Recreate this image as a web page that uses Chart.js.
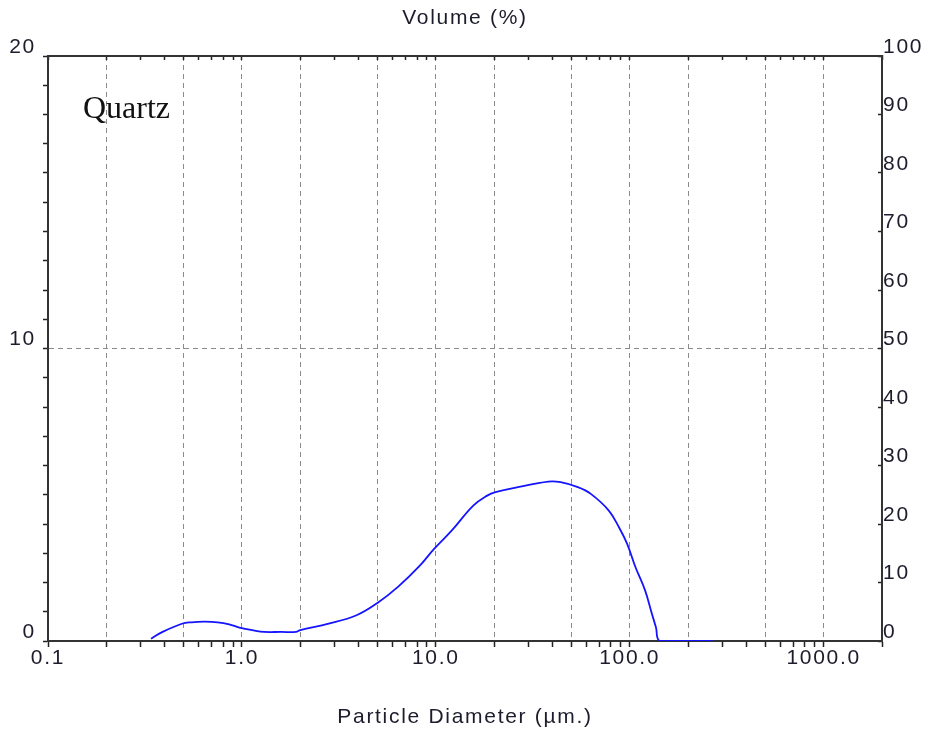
<!DOCTYPE html>
<html>
<head>
<meta charset="utf-8">
<script src="https://cdn.jsdelivr.net/npm/chart.js@4"></script>
<style>
  body { margin: 0; background: #fff; }
</style>
</head>
<body>
<canvas id="psdChart" width="926" height="735"></canvas>
<script>
// DATA - particle size distribution
const diameterUm = [0.34, 0.39, 0.49, 0.55, 0.64, 0.75, 0.86, 0.97, 1.15, 1.3, 1.6, 1.9, 2.0, 2.8, 3.9, 5.0, 6.4, 8.2, 9.8, 12.1, 15.6, 18.4, 20.3, 26.5, 38, 44, 54, 63, 78, 88, 97, 107, 120, 130, 136.5, 143, 200, 268];
const volumePct  = [0.08, 0.31, 0.59, 0.64, 0.66, 0.64, 0.57, 0.46, 0.36, 0.31, 0.31, 0.31, 0.37, 0.59, 0.88, 1.30, 1.86, 2.55, 3.15, 3.78, 4.63, 4.97, 5.09, 5.26, 5.45, 5.43, 5.26, 5.03, 4.46, 3.89, 3.32, 2.53, 1.73, 0.94, 0.47, 0, 0, 0];

const xLabelValues = [0.1, 1, 10, 100, 1000];
const xLabelText   = ['0.1', '1.0', '10.0', '100.0', '1000.0'];
const leftLabels   = [0, 10, 20];
const rightLabels  = [0, 10, 20, 30, 40, 50, 60, 70, 80, 90, 100];

const X_MIN = 0.1, X_MAX = 2000;
const FONT = '"Liberation Sans", Arial, sans-serif';
const INK = '#1c1c2c';
const GRID = '#8a8a8a';
const FRAME = '#333';

function mantissa(v) {
    const e = Math.floor(Math.log10(v) + 1e-9);
    return Math.round(v / Math.pow(10, e));
}

// every 1..9 x 10^n between the axis ends
function logTicks(scale) {
    const out = [];
    for (let e = -1; e <= 3; e++) {
        for (let m = 1; m <= 9; m++) {
            const v = m * Math.pow(10, e);
            if (v <= X_MAX * 1.0001) out.push({ value: v });
        }
    }
    scale.ticks = out;
}

function xGridColor(ctx) {
    const v = ctx.tick && ctx.tick.value;
    if (!v || v <= X_MIN * 1.001 || v >= X_MAX * 0.999) return 'transparent';
    return [1, 2, 5].includes(mantissa(v)) ? GRID : 'transparent';
}

// canvas letter spacing, reset whenever the canvas is resized
const spacing = {
    id: 'spacing',
    beforeUpdate(chart) { chart.ctx.letterSpacing = '1.7px'; },
    beforeDraw(chart) { chart.ctx.letterSpacing = '1.7px'; }
};

// sample name in the corner of the plot
const sampleName = {
    id: 'sampleName',
    afterDraw(chart) {
        const ctx = chart.ctx;
        ctx.save();
        ctx.letterSpacing = '0px';
        ctx.font = '32px "Liberation Serif", "Times New Roman", serif';
        ctx.fillStyle = '#111';
        ctx.textBaseline = 'alphabetic';
        ctx.fillText('Quartz', 83, 118);
        ctx.restore();
    }
};

Chart.defaults.font.family = FONT;
Chart.defaults.font.size = 21;
Chart.defaults.color = INK;

new Chart(document.getElementById('psdChart'), {
    type: 'line',
    data: {
        datasets: [{
            label: 'Quartz',
            data: diameterUm.map((d, i) => ({ x: d, y: volumePct[i] })),
            borderColor: '#1414ff',
            borderWidth: 1.8,
            pointRadius: 0,
            fill: false,
            tension: 0.4
        }]
    },
    options: {
        responsive: false,
        devicePixelRatio: 1,
        animation: false,
        layout: { padding: 0 },
        plugins: {
            legend: { display: false },
            tooltip: { enabled: false }
        },
        scales: {
            x: {
                type: 'logarithmic',
                position: 'bottom',
                min: X_MIN,
                max: X_MAX,
                afterBuildTicks: logTicks,
                afterFit: s => { s.height = 94; },
                ticks: {
                    autoSkip: false,
                    maxRotation: 0,
                    padding: 1,
                    font: { lineHeight: 1 },
                    callback: v => {
                        const i = xLabelValues.findIndex(d => Math.abs(v - d) < d * 1e-6);
                        return i >= 0 ? xLabelText[i] : '';
                    }
                },
                grid: { color: xGridColor, lineWidth: 1, tickColor: '#222', tickLength: 6, tickWidth: 1.5 },
                border: { color: FRAME, width: 2, dash: [5, 4] },
                title: { display: true, text: 'Particle Diameter (µm.)', font: { lineHeight: 1 }, padding: { bottom: 7 } }
            },
            x2: {
                type: 'logarithmic',
                position: 'top',
                min: X_MIN,
                max: X_MAX,
                afterBuildTicks: logTicks,
                afterFit: s => { s.height = 56; },
                ticks: { display: false, autoSkip: false },
                grid: { drawOnChartArea: false, tickColor: '#222', tickLength: -4, tickWidth: 1.5 },
                border: { color: FRAME, width: 2 },
                title: { display: true, text: 'Volume (%)', font: { lineHeight: 1 }, padding: { top: 7.5 } }
            },
            y: {
                position: 'left',
                min: 0,
                max: 20,
                afterBuildTicks: s => {
                    const out = [];
                    for (let v = 0; v <= 20; v++) out.push({ value: v });
                    s.ticks = out;
                },
                afterFit: s => { s.width = 48; },
                ticks: {
                    autoSkip: false,
                    padding: 7,
                    labelOffset: -9,
                    font: { lineHeight: 1 },
                    callback: v => leftLabels.includes(v) ? String(v) : ''
                },
                grid: {
                    color: ctx => (ctx.tick && ctx.tick.value === 10) ? GRID : 'transparent',
                    tickColor: '#222',
                    tickLength: 5,
                    tickWidth: 1.5
                },
                border: { color: FRAME, width: 2, dash: [5, 4] }
            },
            y2: {
                position: 'right',
                min: 0,
                max: 100,
                afterBuildTicks: s => { s.ticks = rightLabels.map(v => ({ value: v })); },
                afterFit: s => { s.width = 44; },
                ticks: {
                    autoSkip: false,
                    padding: 5,
                    labelOffset: -9,
                    font: { lineHeight: 1 },
                    callback: v => String(v)
                },
                grid: { drawOnChartArea: false, tickColor: '#222', tickLength: -4, tickWidth: 1.5 },
                border: { color: FRAME, width: 2 }
            }
        }
    },
    plugins: [spacing, sampleName]
});
</script>
</body>
</html>
